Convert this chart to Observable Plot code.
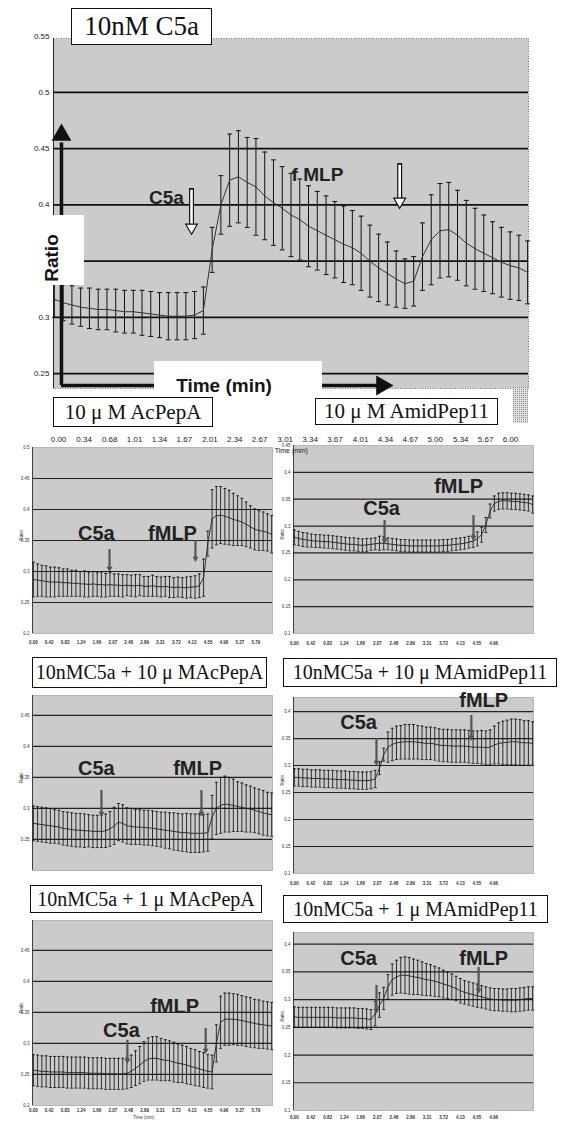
<!DOCTYPE html>
<html><head><meta charset="utf-8">
<script src="https://cdn.jsdelivr.net/npm/d3@7"></script>
<script src="https://cdn.jsdelivr.net/npm/@observablehq/plot@0.6"></script>
<style>
body{margin:0;background:#fff;}
#root{position:relative;width:567px;height:1121px;overflow:hidden;background:#fff;}
#root svg.plt{position:absolute;}
.tbox{position:absolute;background:#fff;border:1.5px solid #111;box-sizing:border-box;font-family:"Liberation Serif","DejaVu Serif",serif;color:#111;display:flex;align-items:center;justify-content:center;white-space:pre;}
.wbox{position:absolute;background:#fff;}
.btxt{position:absolute;font-family:"Liberation Sans",Arial,sans-serif;font-weight:bold;color:#151515;white-space:nowrap;}
</style></head><body>
<svg width="0" height="0" style="position:absolute"><defs>
<pattern id="stip" width="2" height="2" patternUnits="userSpaceOnUse"><rect width="2" height="2" fill="#dedede"/><rect x="0" y="0" width="1" height="1" fill="#929292"/></pattern>
</defs></svg>
<div id="root"></div>
<script>
// ---------------- DATA ----------------
const mainMean = [0.316,0.313,0.311,0.309,0.308,0.307,0.307,0.306,0.305,0.305,
0.304,0.303,0.302,0.301,0.301,0.301,0.302,0.306,0.360,0.400,
0.422,0.425,0.420,0.416,0.408,0.402,0.397,0.391,0.387,0.381,
0.377,0.373,0.369,0.365,0.362,0.357,0.350,0.344,0.339,0.334,
0.330,0.332,0.354,0.369,0.377,0.378,0.373,0.366,0.361,0.357,
0.353,0.349,0.346,0.344,0.340];
const mainErr = [0.016,0.016,0.017,0.017,0.018,0.018,0.018,0.019,0.019,0.019,
0.020,0.020,0.020,0.021,0.021,0.021,0.021,0.021,0.020,0.026,
0.041,0.041,0.040,0.043,0.039,0.038,0.037,0.037,0.036,0.036,
0.035,0.035,0.034,0.034,0.033,0.033,0.032,0.030,0.028,0.025,
0.022,0.022,0.030,0.040,0.042,0.042,0.040,0.038,0.036,0.034,
0.032,0.031,0.030,0.029,0.028];

const acMean = [0.287,0.286,0.285,0.284,0.283,0.283,0.283,0.282,0.282,0.281,
0.281,0.280,0.280,0.279,0.280,0.279,0.279,0.278,0.279,0.278,
0.278,0.277,0.278,0.277,0.277,0.278,0.276,0.276,0.277,0.276,
0.275,0.276,0.275,0.274,0.275,0.274,0.274,0.275,0.275,0.277,
0.290,0.345,0.385,0.390,0.391,0.389,0.387,0.384,0.382,0.380,
0.376,0.372,0.368,0.366,0.365,0.363,0.360];
const acErr = [0.028,0.026,0.025,0.025,0.024,0.024,0.023,0.022,0.022,0.021,
0.021,0.020,0.021,0.020,0.020,0.019,0.020,0.019,0.019,0.018,
0.018,0.018,0.017,0.017,0.018,0.017,0.016,0.016,0.017,0.016,
0.016,0.016,0.017,0.016,0.016,0.016,0.017,0.017,0.018,0.019,
0.030,0.020,0.047,0.047,0.046,0.045,0.044,0.042,0.040,0.038,
0.036,0.034,0.033,0.032,0.031,0.030,0.030];

const amMean = [0.279,0.277,0.275,0.274,0.273,0.272,0.272,0.271,0.271,0.270,
0.269,0.268,0.267,0.266,0.266,0.265,0.264,0.265,0.266,0.267,
0.268,0.268,0.267,0.266,0.265,0.264,0.264,0.263,0.263,0.263,
0.263,0.263,0.263,0.263,0.263,0.264,0.264,0.265,0.266,0.267,
0.268,0.270,0.272,0.276,0.284,0.302,0.328,0.342,0.346,0.347,
0.347,0.346,0.346,0.345,0.344,0.343,0.340];
const amErr = [0.014,0.013,0.013,0.013,0.012,0.012,0.012,0.012,0.012,0.012,
0.012,0.012,0.012,0.012,0.012,0.012,0.012,0.012,0.011,0.011,
0.013,0.012,0.011,0.011,0.011,0.011,0.011,0.011,0.011,0.011,
0.011,0.011,0.011,0.011,0.011,0.011,0.011,0.011,0.011,0.011,
0.011,0.011,0.012,0.013,0.014,0.014,0.013,0.014,0.015,0.015,
0.015,0.015,0.015,0.015,0.015,0.015,0.016];

const c10acMean = [0.276,0.275,0.274,0.273,0.272,0.271,0.270,0.268,0.267,0.266,
0.265,0.265,0.264,0.264,0.263,0.263,0.263,0.264,0.267,0.272,
0.278,0.276,0.272,0.271,0.270,0.270,0.269,0.269,0.268,0.267,
0.266,0.265,0.264,0.263,0.262,0.261,0.261,0.260,0.260,0.260,
0.260,0.261,0.286,0.300,0.305,0.307,0.306,0.305,0.303,0.302,
0.300,0.299,0.297,0.295,0.293,0.291,0.290];
const c10acErr = [0.028,0.028,0.028,0.028,0.028,0.027,0.027,0.027,0.027,0.027,
0.027,0.027,0.027,0.026,0.026,0.026,0.026,0.027,0.028,0.030,
0.030,0.030,0.029,0.029,0.028,0.028,0.028,0.028,0.028,0.028,
0.028,0.029,0.029,0.030,0.030,0.030,0.031,0.031,0.031,0.031,
0.030,0.030,0.035,0.042,0.045,0.045,0.044,0.042,0.040,0.039,
0.038,0.037,0.036,0.036,0.036,0.035,0.035];

const c10amMean = [0.278,0.278,0.277,0.277,0.276,0.276,0.276,0.275,0.275,0.275,
0.274,0.274,0.274,0.273,0.273,0.272,0.272,0.272,0.273,0.275,
0.295,0.320,0.334,0.339,0.342,0.343,0.344,0.344,0.344,0.343,
0.342,0.341,0.341,0.340,0.338,0.337,0.337,0.336,0.336,0.336,
0.336,0.335,0.334,0.334,0.334,0.333,0.334,0.338,0.341,0.342,
0.343,0.344,0.344,0.343,0.342,0.342,0.341];
const c10amErr = [0.016,0.016,0.016,0.016,0.016,0.016,0.016,0.016,0.016,0.016,
0.016,0.016,0.016,0.016,0.016,0.016,0.016,0.016,0.016,0.016,
0.012,0.012,0.028,0.030,0.031,0.031,0.032,0.032,0.032,0.031,
0.031,0.030,0.030,0.030,0.030,0.030,0.030,0.030,0.030,0.030,
0.030,0.030,0.030,0.030,0.031,0.031,0.032,0.035,0.038,0.040,
0.041,0.042,0.042,0.042,0.041,0.041,0.040];

const c1acMean = [0.257,0.256,0.255,0.255,0.254,0.254,0.254,0.254,0.253,0.253,
0.253,0.253,0.253,0.252,0.252,0.252,0.252,0.251,0.251,0.251,
0.251,0.251,0.252,0.255,0.260,0.265,0.271,0.275,0.276,0.276,
0.274,0.273,0.272,0.270,0.268,0.267,0.265,0.263,0.261,0.259,
0.257,0.255,0.254,0.300,0.334,0.339,0.339,0.339,0.338,0.337,
0.335,0.334,0.332,0.331,0.330,0.329,0.328];
const c1acErr = [0.025,0.025,0.025,0.025,0.025,0.025,0.025,0.025,0.025,0.025,
0.025,0.025,0.025,0.025,0.025,0.025,0.025,0.025,0.025,0.025,
0.025,0.025,0.025,0.026,0.028,0.030,0.032,0.034,0.035,0.035,
0.034,0.033,0.032,0.032,0.031,0.030,0.030,0.029,0.029,0.028,
0.028,0.027,0.027,0.030,0.042,0.042,0.042,0.041,0.041,0.040,
0.040,0.040,0.039,0.039,0.038,0.038,0.038];

const c1amMean = [0.269,0.268,0.268,0.268,0.268,0.268,0.268,0.268,0.268,0.268,
0.267,0.267,0.267,0.267,0.267,0.266,0.266,0.265,0.264,0.275,
0.290,0.302,0.323,0.336,0.341,0.344,0.344,0.343,0.341,0.340,
0.338,0.336,0.335,0.333,0.331,0.328,0.326,0.323,0.320,0.316,
0.313,0.311,0.309,0.307,0.305,0.303,0.301,0.300,0.300,0.299,
0.299,0.299,0.299,0.300,0.301,0.302,0.302];
const c1amErr = [0.018,0.018,0.018,0.018,0.018,0.018,0.018,0.018,0.018,0.018,
0.018,0.018,0.018,0.018,0.018,0.018,0.018,0.018,0.018,0.022,
0.022,0.020,0.022,0.028,0.030,0.032,0.033,0.033,0.032,0.031,
0.030,0.029,0.028,0.027,0.026,0.025,0.024,0.023,0.022,0.022,
0.021,0.021,0.021,0.021,0.020,0.020,0.020,0.020,0.020,0.020,
0.020,0.021,0.021,0.021,0.021,0.021,0.021];

const mainGrid = [0.25,0.3,0.35,0.4,0.45,0.5];
const mainYTicks = [0.55,0.5,0.45,0.4,0.3,0.25];
const mainTimeLabels = ["0.00","0.34","0.68","1.01","1.34","1.67","2.01","2.34","2.67","3.01","3.34","3.67","4.01","4.34","4.67","5.00","5.34","5.67","6.00"];
const leftTimeLabels = ["0.00","0.42","0.83","1.24","1.66","2.07","2.48","2.89","3.31","3.72","4.13","4.55","4.96","5.37","5.79"];
const rightTimeLabels = ["0.00","0.42","0.83","1.24","1.66","2.07","2.48","2.89","3.31","3.72","4.13","4.55","4.96"];
const gridA = [0.25,0.3,0.35,0.4,0.45];
const gridB = [0.15,0.2,0.25,0.3,0.35,0.4];

// annotation anchors (data coordinates)
const mainStim = [{x:15.65,y1:0.4146,y1i:0.4131,y2:0.3808,head:0.3799},{x:39.4,y1:0.4368,y1i:0.4353,y2:0.404,head:0.403}];
const mainLabels = [{x:12.79,y:0.4066,t:"C5a"},{x:30.02,y:0.427,t:"f MLP"}];
const ratioArrow = [{x:0.81,y1:0.2393,y2:0.455,head:0.4622}];
const timeArrow = [{y:0.2393,x1:0.81,x2:37.3,head:37.38}];

// ---------------- HELPERS ----------------
const root = document.getElementById("root");
const baseStyle = {background:"transparent", overflow:"visible", fontFamily:"Liberation Sans, Arial, sans-serif", color:"#111"};
const narrow = "Liberation Sans Narrow, Liberation Sans, Arial, sans-serif";
function rows(mean, err){ return mean.map((m,i)=>({i, m, lo:m-err[i], hi:m+err[i]})); }
function errMarks(r, cap, w, col){
  return [
    Plot.ruleX(r, {x:"i", y1:"lo", y2:"hi", stroke:col, strokeWidth:w}),
    Plot.link(r, {x1:d=>d.i-cap, x2:d=>d.i+cap, y1:"hi", y2:"hi", stroke:col, strokeWidth:w}),
    Plot.link(r, {x1:d=>d.i-cap, x2:d=>d.i+cap, y1:"lo", y2:"lo", stroke:col, strokeWidth:w})
  ];
}
function place(svg, left, top){ svg.classList.add("plt"); svg.style.left = left+"px"; svg.style.top = top+"px"; root.appendChild(svg); }
function box(cls, l, t, w, h, html, fs){
  const d = document.createElement("div"); d.className = cls;
  Object.assign(d.style, {left:l+"px", top:t+"px", width:w+"px", height:h+"px"});
  if (html) { d.innerHTML = html; d.style.fontSize = fs+"px"; }
  root.appendChild(d); return d;
}

// ---------------- MAIN CHART ----------------
const mainRows = rows(mainMean, mainErr);
place(Plot.plot({
  width:567, height:390, marginTop:38, marginBottom:2, marginLeft:53, marginRight:39,
  x:{domain:[-0.1,54.1], axis:null}, y:{domain:[0.2367,0.548], axis:null},
  style:baseStyle,
  marks:[
    Plot.frame({fill:"url(#stip)", stroke:"#777", strokeDasharray:"1,1.5"}),
    Plot.ruleX([-0.1], {stroke:"#222", strokeWidth:1}),
    Plot.ruleY(mainGrid, {stroke:"#111", strokeWidth:1.7}),
    ...errMarks(mainRows, 0.28, 1, "#111"),
    Plot.line(mainRows, {x:"i", y:"m", stroke:"#333", strokeWidth:1}),
    Plot.text(mainYTicks, {y:d=>d, text:d=>String(d), frameAnchor:"left", textAnchor:"end", dx:-4, fontSize:8, fontFamily:narrow, fill:"#222"}),
    Plot.ruleX(ratioArrow, {x:"x", y1:"y1", y2:"y2", stroke:"#111", strokeWidth:3.5}),
    Plot.dot(ratioArrow, {x:"x", y:"head", symbol:"triangle", r:7.4, fill:"#111", stroke:"none"}),
    Plot.ruleY(timeArrow, {y:"y", x1:"x1", x2:"x2", stroke:"#111", strokeWidth:3.5}),
    Plot.dot(timeArrow, {x:"head", y:"y", symbol:"triangle", rotate:90, r:7.4, fill:"#111", stroke:"none"}),
    Plot.ruleX(mainStim, {x:"x", y1:"y1", y2:"y2", stroke:"#111", strokeWidth:5}),
    Plot.ruleX(mainStim, {x:"x", y1:"y1i", y2:"y2", stroke:"#fff", strokeWidth:2.6}),
    Plot.dot(mainStim, {x:"x", y:"head", symbol:"triangle", rotate:180, r:4.4, fill:"#fff", stroke:"#111", strokeWidth:1.1}),
    Plot.text(mainLabels, {x:"x", y:"y", text:"t", fontSize:19, fontWeight:"bold", fill:"#222"})
  ]
}), 0, 0);

// right strip of the main chart background
{
  const ns = "http://www.w3.org/2000/svg";
  const s = document.createElementNS(ns, "svg");
  s.setAttribute("width", 15); s.setAttribute("height", 36);
  const r = document.createElementNS(ns, "rect");
  r.setAttribute("width", 15); r.setAttribute("height", 36); r.setAttribute("fill", "url(#stip)");
  s.appendChild(r); place(s, 513, 387);
}

// ---------------- SMALL PANELS ----------------
const panels = [
  {left:0, top:440, w:285, h:212, mt:7, mb:19, ml:32, mr:13, yd:[0.2,0.5], grid:gridA, yTicks:[0.2,0.25,0.3,0.35,0.4,0.45,0.5],
   mean:acMean, err:acErr, labels:[{x:14.8,y:0.3613,t:"C5a"},{x:32.7,y:0.3613,t:"fMLP"}],
   stim:[{x:17.9,y1:0.3355,y2:0.3048},{x:38.1,y1:0.35,y2:0.321}], xLabels:leftTimeLabels, xStep:56/15, xPad:9},
  {left:280, top:440, w:287, h:212, mt:5, mb:19, ml:13, mr:34, yd:[0.1,0.45], grid:gridB, yTicks:[0.1,0.15,0.2,0.25,0.3,0.35,0.4,0.45],
   mean:amMean, err:amErr, labels:[{x:20.5,y:0.3327,t:"C5a"},{x:38.6,y:0.3737,t:"fMLP"}],
   stim:[{x:21.2,y1:0.3103,y2:0.2731},{x:42.1,y1:0.3196,y2:0.2787}], xLabels:rightTimeLabels, xStep:3.9, xPad:10},
  {left:0, top:690, w:285, h:196, mt:5, mb:16, ml:32, mr:13, yd:[0.2,0.482], grid:gridA, yTicks:[0.25,0.3,0.35,0.4,0.45],
   mean:c10acMean, err:c10acErr, labels:[{x:14.8,y:0.3645,t:"C5a"},{x:38.6,y:0.3645,t:"fMLP"}],
   stim:[{x:16.0,y1:0.329,y2:0.292},{x:39.5,y1:0.329,y2:0.292}], xLabels:null},
  {left:280, top:690, w:287, h:200, mt:7, mb:17, ml:13, mr:34, yd:[0.1,0.426], grid:gridB, yTicks:[0.1,0.15,0.2,0.25,0.3,0.35,0.4],
   mean:c10amMean, err:c10amErr, labels:[{x:15.1,y:0.3796,t:"C5a"},{x:44.5,y:0.420,t:"fMLP"}],
   stim:[{x:19.3,y1:0.35,y2:0.3056},{x:41.6,y1:0.3926,y2:0.3519}], xLabels:rightTimeLabels, xStep:3.9, xPad:10},
  {left:0, top:915, w:285, h:206, mt:5, mb:16, ml:32, mr:13, yd:[0.2,0.498], grid:gridA, yTicks:[0.2,0.25,0.3,0.35,0.4,0.45],
   mean:c1acMean, err:c1acErr, labels:[{x:20.7,y:0.321,t:"C5a"},{x:33.2,y:0.36,t:"fMLP"}],
   stim:[{x:22.1,y1:0.305,y2:0.2726},{x:40.5,y1:0.324,y2:0.2887}], xLabels:leftTimeLabels, xStep:56/15, xPad:5, timeX:25.9},
  {left:280, top:925, w:287, h:196, mt:7, mb:11, ml:13, mr:34, yd:[0.1,0.421], grid:gridB, yTicks:[0.1,0.15,0.2,0.25,0.3,0.35,0.4],
   mean:c1amMean, err:c1amErr, labels:[{x:15.1,y:0.374,t:"C5a"},{x:44.5,y:0.374,t:"fMLP"}],
   stim:[{x:19.3,y1:0.3256,y2:0.2805},{x:43.3,y1:0.358,y2:0.3166}], xLabels:rightTimeLabels, xStep:3.9, xPad:7}
];

for (const p of panels) {
  const r = rows(p.mean, p.err);
  const xd = [-0.2, p.mean.length - 1 + 0.2];
  const marks = [
    Plot.frame({fill:"url(#stip)", stroke:"#888", strokeDasharray:"1,1"}),
    Plot.ruleX([xd[0]], {stroke:"#222", strokeWidth:0.8}),
    Plot.ruleY(p.grid, {stroke:"#222", strokeWidth:1.2}),
    ...errMarks(r, 0.35, 0.85, "#111"),
    Plot.line(r, {x:"i", y:"m", stroke:"#222", strokeWidth:0.9}),
    Plot.ruleX(p.stim, {x:"x", y1:"y1", y2:"y2", stroke:"#555", strokeWidth:2.2}),
    Plot.dot(p.stim, {x:"x", y:"y2", symbol:"triangle", rotate:180, r:2.2, fill:"#555", stroke:"none"}),
    Plot.text(p.labels, {x:"x", y:"y", text:"t", fontSize:20, fontWeight:"bold", fill:"#222"}),
    Plot.text(p.yTicks, {y:d=>d, text:d=>String(d), frameAnchor:"left", textAnchor:"end", dx:-3, fontSize:4.5, fill:"#333"}),
    Plot.text(["Ratio"], {text:d=>d, frameAnchor:"left", rotate:-90, dx:-11, fontSize:4.5, fill:"#333"})
  ];
  if (p.xLabels) {
    const lr = p.xLabels.map((t,k)=>({x:k*p.xStep, t}));
    marks.push(Plot.text(lr, {x:"x", text:"t", frameAnchor:"bottom", lineAnchor:"middle", dy:p.xPad, fontSize:4.5, fontWeight:"bold", fill:"#333"}));
  }
  if (p.timeX != null) {
    marks.push(Plot.text([{x:p.timeX, t:"Time (min)"}], {x:"x", text:"t", frameAnchor:"bottom", lineAnchor:"middle", dy:p.xPad+7, fontSize:4.5, fill:"#333"}));
  }
  place(Plot.plot({
    width:p.w, height:p.h, marginTop:p.mt, marginBottom:p.mb, marginLeft:p.ml, marginRight:p.mr,
    x:{domain:xd, axis:null}, y:{domain:p.yd, axis:null}, style:baseStyle, marks
  }), p.left, p.top);
}

// main time-axis labels strip (drawn over the top panels)
place(Plot.plot({
  width:567, height:28, marginTop:0, marginBottom:0, marginLeft:58, marginRight:57,
  x:{domain:[0,6], axis:null}, style:baseStyle,
  marks:[
    Plot.text(mainTimeLabels, {x:d=>+d, text:d=>d, frameAnchor:"top", lineAnchor:"middle", dy:9, fontSize:8, fontFamily:narrow, fill:"#222"}),
    Plot.text([{x:3.09, t:"Time (min)"}], {x:"x", text:"t", frameAnchor:"top", lineAnchor:"middle", dy:20, fontSize:7, fontFamily:narrow, fill:"#222"})
  ]
}), 0, 430);

// ---------------- OVERLAY BOXES & TEXT ----------------
box("wbox", 40, 215, 44, 70);
const rt = box("btxt", 52, 258, 0, 0, "Ratio", 19);
rt.style.width = "auto"; rt.style.height = "auto"; rt.style.transform = "translate(-50%,-50%) rotate(-90deg)";
box("wbox", 154, 361, 168, 38);
const tt = box("btxt", 224, 386, 0, 0, "Time (min)", 19);
tt.style.width = "auto"; tt.style.height = "auto"; tt.style.transform = "translate(-50%,-50%)";

const titles = [
  {l:71, t:8, w:141, h:37, fs:27, s:"10nM C5a"},
  {l:53, t:397, w:160, h:30, fs:21, s:"10 μ M AcPepA"},
  {l:315, t:398, w:183, h:27, fs:21, s:"10 μ M AmidPep11"},
  {l:32, t:657, w:235, h:31, fs:20, s:"10nMC5a + 10 μ MAcPepA"},
  {l:283, t:658, w:274, h:29, fs:20, s:"10nMC5a + 10 μ MAmidPep11"},
  {l:30, t:885, w:232, h:28, fs:20, s:"10nMC5a + 1 μ MAcPepA"},
  {l:283, t:895, w:265, h:28, fs:20, s:"10nMC5a + 1 μ MAmidPep11"}
];
for (const b of titles) box("tbox", b.l, b.t, b.w, b.h, b.s, b.fs);
</script>
</body></html>
